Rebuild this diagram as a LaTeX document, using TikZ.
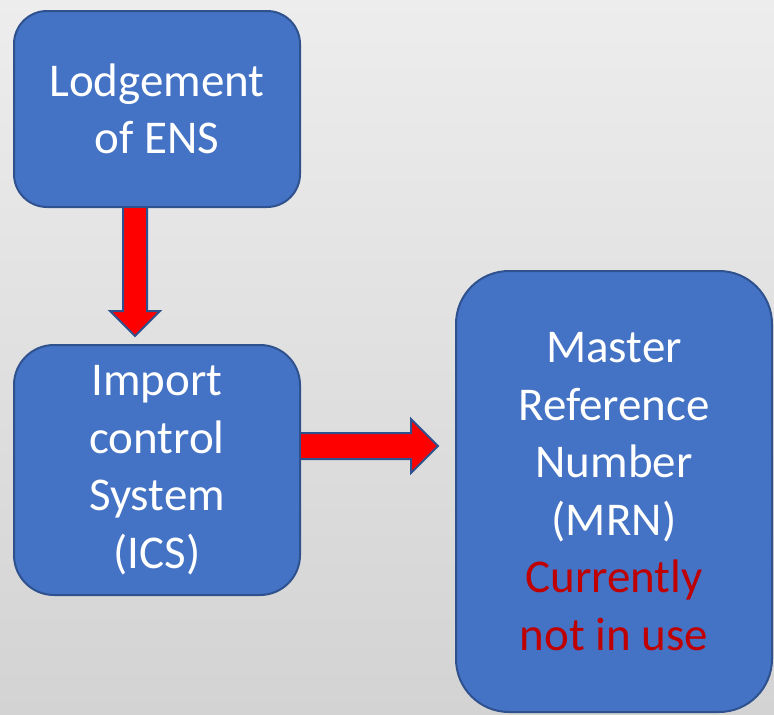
\documentclass[tikz,border=0pt]{standalone}
\usepackage{fontspec}
\setmainfont{Carlito}
\usetikzlibrary{calc}
\definecolor{boxblue}{HTML}{4472C4}
\definecolor{edgeblue}{HTML}{2F528F}
\definecolor{textred}{HTML}{C00000}
\definecolor{bgtop}{HTML}{EDEDED}
\definecolor{bgbottom}{HTML}{D3D3D3}

\begin{document}
\begin{tikzpicture}
[
    x=1pt, y=-1pt,
    procbox/.style={draw=edgeblue, line width=2pt, fill=boxblue, text=white,
        align=center, inner sep=0pt, execute at begin node={\rule{0pt}{48pt}},
        font=\fontsize{47}{57.6}\selectfont},
    blockarrow/.style={draw=edgeblue, line width=2pt, fill=red, line join=miter},
]
\shade[top color=bgtop, bottom color=bgbottom] (0,0) rectangle (774,715);
\useasboundingbox (0,0) rectangle (774,715);

% the three boxes
\node [procbox, rounded corners=33pt, minimum width=286pt, minimum height=196pt]
(lodge) at (157,109) {Lodgement\\of ENS};
\node [procbox, rounded corners=40pt, minimum width=286pt, minimum height=250pt]
(ics) at (157,470) {Import\\control\\System\\(ICS)};
\node [procbox, rounded corners=53pt, minimum width=316pt, minimum height=441pt]
(mrn) at (614,491.5) {Master\\Reference\\Number\\(MRN)\\
    \textcolor{textred}{Currently}\\\textcolor{textred}{not in use}};

% block arrows
\coordinate (downtip) at (135,336);
\coordinate (righttip) at (438,446);
\draw [blockarrow] ($(lodge.south -| downtip)+(-12,0)$)
    -- ($(downtip)+(-12,-25)$) -- ($(downtip)+(-25,-25)$) -- (downtip)
    -- ($(downtip)+(25,-25)$) -- ($(downtip)+(12,-25)$)
    -- ($(lodge.south -| downtip)+(12,0)$);
\draw [blockarrow] ($(ics.east |- righttip)+(0,-13)$)
    -- ($(righttip)+(-27,-13)$) -- ($(righttip)+(-27,-27)$) -- (righttip)
    -- ($(righttip)+(-27,27)$) -- ($(righttip)+(-27,13)$)
    -- ($(ics.east |- righttip)+(0,13)$);
\end{tikzpicture}
\end{document}
